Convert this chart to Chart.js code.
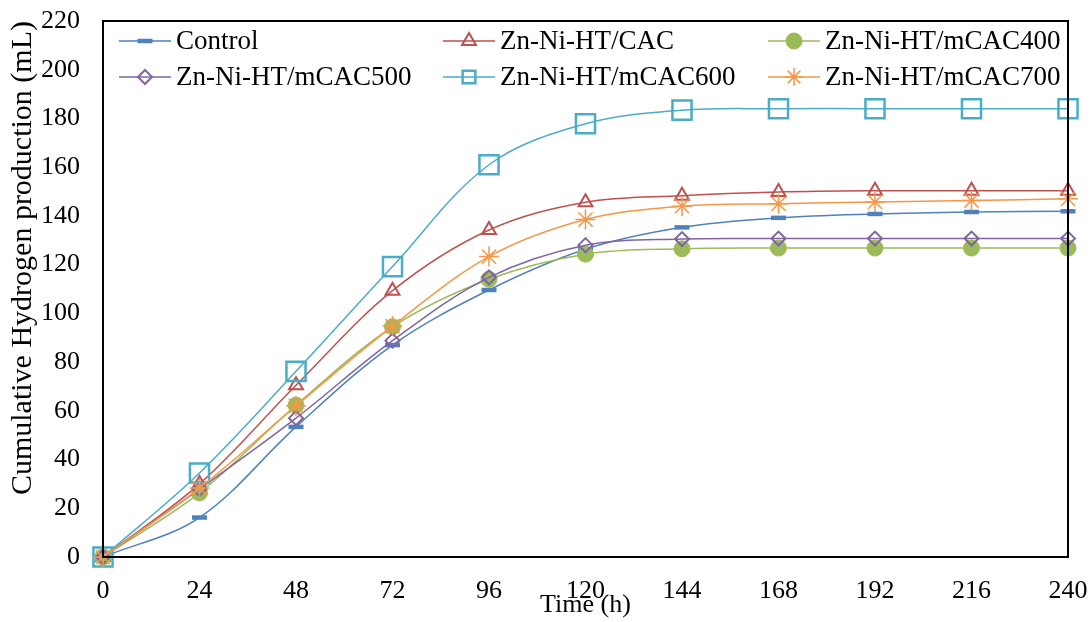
<!DOCTYPE html>
<html>
<head>
<meta charset="utf-8">
<title>Cumulative hydrogen production</title>
<script src="https://cdn.jsdelivr.net/npm/chart.js@4.4.1/dist/chart.umd.min.js"></script>
<style>
    html, body { margin: 0; padding: 0; background: #fff; }
    #h2Chart { display: block; }
</style>
</head>
<body>
<canvas id="h2Chart" width="1092" height="622"></canvas>
<script>
    // Time axis (h)
    const hours = [0, 24, 48, 72, 96, 120, 144, 168, 192, 216, 240];
    const yTicks = { min: 0, max: 220, step: 20 };

    // Cumulative H2 (mL)
    const control   = [0, 16.2, 53.4, 87.0, 109.6, 126.3, 135.3, 139.2, 140.8, 141.6, 141.9];
    const cac       = [0, 30.0, 70.5, 109.3, 134.2, 145.6, 148.3, 149.8, 150.3, 150.3, 150.3];
    const mcac400   = [0, 26.3, 62.3, 94.5, 114.0, 124.3, 126.5, 126.8, 126.8, 126.8, 126.8];
    const mcac500   = [0, 27.9, 57.0, 88.8, 114.8, 128.0, 130.5, 130.7, 130.7, 130.7, 130.7];
    const mcac600   = [0, 34.5, 76.2, 119.2, 161.0, 177.8, 183.4, 184.0, 184.0, 184.0, 184.0];
    const mcac700   = [0, 28.3, 62.0, 94.8, 123.3, 138.5, 144.0, 145.0, 145.7, 146.3, 147.0];

    const seriesNames = ['Control', 'Zn-Ni-HT/CAC', 'Zn-Ni-HT/mCAC400',
                         'Zn-Ni-HT/mCAC500', 'Zn-Ni-HT/mCAC600', 'Zn-Ni-HT/mCAC700'];
    const seriesData = [control, cac, mcac400, mcac500, mcac600, mcac700];

    const SERIF = '"Liberation Serif", "Times New Roman", serif';

    // marker look per series (Excel 2007 palette)
    const looks = [
        { color: '#4F81BD', style: 'line',     radius: 7.5, bw: 4.5, fill: '#4F81BD' },
        { color: '#C0504D', style: 'triangle', radius: 8,   bw: 2,   fill: 'rgba(0,0,0,0)' },
        { color: '#9BBB59', style: 'circle',   radius: 8,   bw: 1,   fill: '#9BBB59' },
        { color: '#8064A2', style: 'rectRot',  radius: 7,   bw: 2,   fill: 'rgba(0,0,0,0)' },
        { color: '#4BACC6', style: 'rect',     radius: 13.5, bw: 2.5, fill: 'rgba(0,0,0,0)' },
        { color: '#F79646', style: 'star',     radius: 10,  bw: 1.5, fill: 'rgba(0,0,0,0)' }
    ];

    const datasets = seriesNames.map((name, i) => ({
        label: name,
        data: seriesData[i],
        borderColor: looks[i].color,
        borderWidth: 1.5,
        backgroundColor: looks[i].fill,
        pointStyle: looks[i].style,
        pointRadius: looks[i].radius,
        pointBorderWidth: looks[i].bw,
        pointBorderColor: looks[i].color,
        pointBackgroundColor: looks[i].fill,
        tension: 0.35,
        fill: false,
        clip: false,
        order: seriesNames.length - i   // later series on top, like Excel
    }));

    // box around the plot area
    const frame = {
        id: 'frame',
        afterDatasetsDraw(chart) {
            const { ctx, chartArea: a } = chart;
            ctx.save();
            ctx.strokeStyle = '#000';
            ctx.lineWidth = 2;
            ctx.strokeRect(a.left, a.top, a.right - a.left, a.bottom - a.top);
            ctx.restore();
        }
    };

    // legend drawn inside the plot, 3 columns x 2 rows
    const insideLegend = {
        id: 'insideLegend',
        afterDraw(chart) {
            const ctx = chart.ctx;
            const cols = [119, 443, 768];
            const rows = [41, 77];
            const sample = 52;
            ctx.save();
            ctx.font = '27px ' + SERIF;
            ctx.textBaseline = 'middle';
            ctx.fillStyle = '#000';
            chart.data.datasets.forEach((ds, i) => {
                const x = cols[i % 3], y = rows[Math.floor(i / 3)];
                ctx.strokeStyle = ds.borderColor;
                ctx.lineWidth = ds.borderWidth;
                ctx.beginPath();
                ctx.moveTo(x, y);
                ctx.lineTo(x + sample, y);
                ctx.stroke();
                ctx.strokeStyle = ds.pointBorderColor;
                ctx.fillStyle = ds.pointBackgroundColor;
                ctx.lineWidth = ds.pointBorderWidth;
                Chart.helpers.drawPoint(ctx, {
                    pointStyle: ds.pointStyle,
                    radius: Math.min(ds.pointRadius, 9),
                    rotation: 0,
                    borderWidth: ds.pointBorderWidth
                }, x + sample / 2, y);
                ctx.fillStyle = '#000';
                ctx.fillText(ds.label, x + sample + 5, y + 1);
            });
            ctx.restore();
        }
    };

    const ctx = document.getElementById('h2Chart').getContext('2d');
    const h2Chart = new Chart(ctx, {
        type: 'line',
        data: { labels: hours.map(String), datasets: datasets },
        options: {
            responsive: false,
            animation: false,
            devicePixelRatio: 1,
            layout: { padding: { top: 21, right: 24, left: 0, bottom: 0 } },
            plugins: { legend: { display: false }, tooltip: { enabled: false } },
            scales: {
                x: {
                    type: 'category',
                    offset: false,
                    grid: { display: false, drawTicks: false },
                    border: { display: false },
                    ticks: { color: '#000', font: { family: SERIF, size: 26 }, padding: 19,
                             maxRotation: 0, autoSkip: false },
                    title: { display: true, text: 'Time (h)', color: '#000',
                             font: { family: SERIF, size: 26 }, padding: { top: 0, bottom: 1 } },
                    afterFit(scale) {
                        scale.height = 65;
                        scale.paddingLeft = 0;
                        scale.paddingRight = 0;
                    }
                },
                y: {
                    min: yTicks.min,
                    max: yTicks.max,
                    grid: { display: false, drawTicks: false },
                    border: { display: false },
                    ticks: { stepSize: yTicks.step, color: '#000',
                             font: { family: SERIF, size: 26 }, padding: 23 },
                    title: { display: true, text: 'Cumulative Hydrogen production (mL)', color: '#000',
                             align: 'end',
                             font: { family: SERIF, size: 30 }, padding: { top: 5, bottom: 0 } },
                    afterFit(scale) {
                        scale.width = 103;
                        scale.paddingTop = 0;
                        scale.paddingBottom = 0;
                    }
                }
            }
        },
        plugins: [frame, insideLegend]
    });
</script>
</body>
</html>
